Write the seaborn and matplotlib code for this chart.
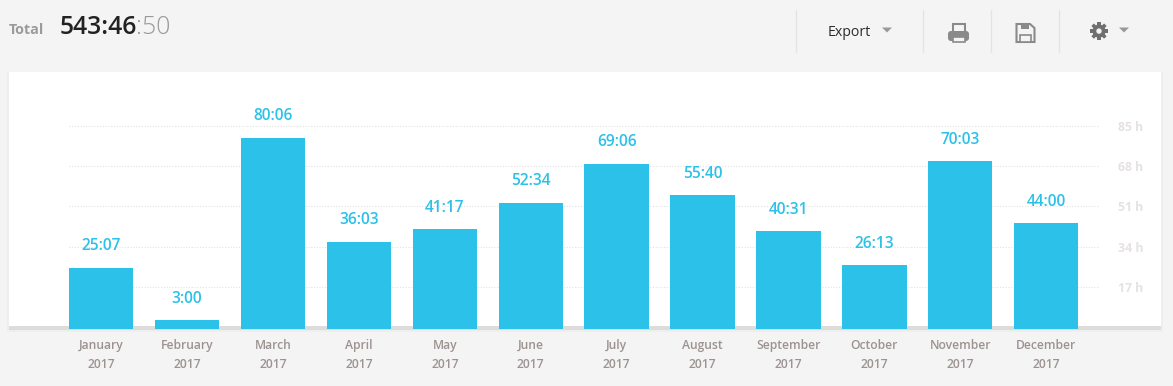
import pandas as pd
import matplotlib.pyplot as plt
import seaborn as sns
from matplotlib.patches import Circle, Polygon, Rectangle, FancyBboxPatch
from matplotlib.transforms import Affine2D

months = ["January", "February", "March", "April", "May", "June", "July",
          "August", "September", "October", "November", "December"]
year = "2017"
durations = ["25:07", "3:00", "80:06", "36:03", "41:17", "52:34", "69:06",
             "55:40", "40:31", "26:13", "70:03", "44:00"]
y_ticks = [17, 34, 51, 68, 85]

BLUE = "#2cc1e8"
BG = "#f4f4f4"
W, H = 1173, 386
FONT = ["Open Sans", "DejaVu Sans"]


def to_hours(s):
    h, m = s.split(":")
    return int(h) + int(m) / 60


def px_axes(fig, left, top, right, bottom):
    return fig.add_axes([left / W, 1 - bottom / H, (right - left) / W, (bottom - top) / H])


def draw_chrome(fig):
    # page furniture, in pixel coordinates
    bg = fig.add_axes([0, 0, 1, 1], zorder=0)
    bg.set_xlim(0, W)
    bg.set_ylim(H, 0)
    bg.axis("off")
    bg.add_patch(Rectangle((7, 72), 1156, 260, fc="#eeeeee", ec="none"))
    bg.add_patch(Rectangle((9, 72), 1152, 254, fc="white", ec="none"))
    bg.add_patch(Rectangle((9, 326), 1152, 3.5, fc="#dcdcdc", ec="none"))

    bg.text(9, 30, "Total", fontsize=10.3, fontweight="bold", color="#9b9b9b", va="center")
    bg.text(60, 27, "543:46", fontsize=17.8, fontweight="semibold", color="#222222", va="center")
    bg.text(136, 27, ":50", fontsize=17.8, fontweight="light", color="#9a9a9a", va="center")

    for x in [796, 922.5, 990.5, 1058.5]:
        bg.plot([x, x], [10, 52], color="#e4e4e4", lw=0.9)
    bg.text(849.5, 32, "Export", fontsize=10.2, color="#2b2b2b", ha="center", va="center")
    grey = "#8a8a8a"
    for x, y in [(887, 30), (1124, 30)]:
        bg.add_patch(Polygon([(x - 5, y - 2.5), (x + 5, y - 2.5), (x, y + 2.5)], fc="#999999", ec="none"))

    # printer
    bg.add_patch(Rectangle((952.5, 24), 12, 9, fc=BG, ec=grey, lw=1.5))
    bg.add_patch(FancyBboxPatch((948, 31), 21, 10, boxstyle="round,pad=0,rounding_size=3", fc=grey, ec="none"))
    bg.add_patch(Rectangle((952.5, 36.5), 12, 5.5, fc=BG, ec=grey, lw=1.2))
    # floppy disk
    bg.add_patch(Polygon([(1016.5, 24), (1030, 24), (1034.5, 28), (1034.5, 42), (1016.5, 42)], fc=BG, ec=grey, lw=1.5))
    bg.add_patch(Rectangle((1021, 24), 8, 5, fc=grey, ec="none"))
    bg.add_patch(Rectangle((1020, 34.5), 11, 7, fc=BG, ec=grey, lw=1.2))
    # gear
    for i in range(4):
        spoke = Rectangle((1090, 29.3), 18, 3.6, fc="#6f6f6f", ec="none")
        spoke.set_transform(Affine2D().rotate_deg_around(1099, 31.1, i * 45) + bg.transData)
        bg.add_patch(spoke)
    bg.add_patch(Circle((1099, 31.1), 6.6, fc="#6f6f6f", ec="none"))
    bg.add_patch(Circle((1099, 31.1), 2.7, fc=BG, ec="none"))


def main():
    sns.set_style("white")
    plt.rcParams["font.family"] = FONT

    df = pd.DataFrame({
        "month": [f"{m}\n{year}" for m in months],
        "hours": [to_hours(d) for d in durations],
    })

    fig = plt.figure(figsize=(W / 100, H / 100), dpi=100, facecolor=BG)
    draw_chrome(fig)

    # zero sits at 327 px and 85 h at 126 px, the bars run on to 329 px
    ax = px_axes(fig, 69, 100, 1100, 329)
    ax.set_zorder(1)
    ax.patch.set_alpha(0)

    sns.barplot(data=df, x="month", y="hours", color=BLUE, saturation=1, width=0.75,
                linewidth=0, ax=ax, zorder=3)

    per_hour = (327 - 126) / 85
    ax.set_xlim(-0.375, 11.627)
    ax.set_ylim(-2 / per_hour, (327 - 100) / per_hour)
    ax.set_xlabel("")
    ax.set_ylabel("")
    sns.despine(ax=ax, left=True, bottom=True, right=True, top=True)

    ax.yaxis.tick_right()
    ax.set_yticks(y_ticks)
    ax.set_yticklabels([f"{v} h" for v in y_ticks], fontsize=8.8, fontweight="bold", color="#e6e2e1")
    ax.grid(axis="y", color="#e3e3e3", lw=0.8, ls=(0, (1, 1.5)))
    ax.grid(axis="x", visible=False)
    ax.set_axisbelow(True)
    ax.tick_params(axis="y", length=0, pad=13)
    ax.tick_params(axis="x", length=0, pad=7)
    for lab in ax.get_xticklabels():
        lab.set_fontsize(8.7)
        lab.set_fontweight("semibold")
        lab.set_color("#9c9391")
        lab.set_linespacing(1.6)

    ax.bar_label(ax.containers[0], labels=durations, padding=9.6, fontsize=11.2,
                 fontweight="semibold", color="#2cc1e8", clip_on=False)

    for bar in ax.containers[0]:
        top = bar.get_height()
        low = ax.get_ylim()[0]
        bar.set_y(low)
        bar.set_height(top - low)

    fig.savefig("out.png", dpi=100, facecolor=BG)


if __name__ == "__main__":
    main()
